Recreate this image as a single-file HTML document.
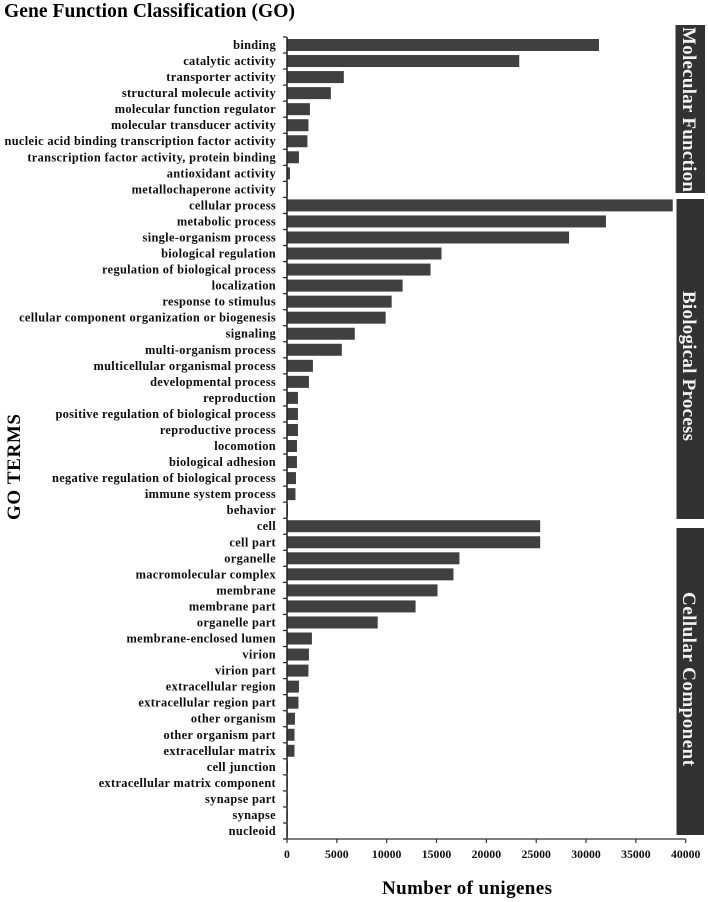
<!DOCTYPE html>
<html><head><meta charset="utf-8"><style>
html,body{margin:0;padding:0;background:#fff;width:708px;height:902px;overflow:hidden}
svg{display:block;font-family:"Liberation Serif",serif;font-weight:bold}
</style></head><body>
<svg id="chart" width="708" height="902" viewBox="0 0 708 902" xmlns="http://www.w3.org/2000/svg">
<defs><filter id="soft" x="-2%" y="-2%" width="104%" height="104%"><feGaussianBlur stdDeviation="0.35"/></filter></defs>
<g id="root" filter="url(#soft)">
<text x="4" y="17" font-size="19.5" fill="#000" textLength="291" lengthAdjust="spacing">Gene Function Classification (GO)</text>
<text transform="translate(20,520) rotate(-90)" font-size="19" fill="#000" textLength="106" lengthAdjust="spacing">GO TERMS</text>
<text x="382" y="894" font-size="19" fill="#000" textLength="170" lengthAdjust="spacing">Number of unigenes</text>
<rect x="675.5" y="25" width="29.5" height="168" fill="#333"/>
<rect x="676.5" y="199" width="27.5" height="320" fill="#333"/>
<rect x="676.5" y="528" width="27.5" height="307" fill="#333"/>
<text transform="translate(683,27) rotate(90)" font-size="19" fill="#f2f2f2" textLength="165" lengthAdjust="spacing">Molecular Function</text>
<text transform="translate(683,291) rotate(90)" font-size="19" fill="#f2f2f2" textLength="150" lengthAdjust="spacing">Biological Process</text>
<text transform="translate(683,592) rotate(90)" font-size="19" fill="#f2f2f2" textLength="174" lengthAdjust="spacing">Cellular Component</text>
<g id="plot"></g>
</g>
</svg>
<script>
const categories = ["binding","catalytic activity","transporter activity","structural molecule activity","molecular function regulator","molecular transducer activity","nucleic acid binding transcription factor activity","transcription factor activity, protein binding","antioxidant activity","metallochaperone activity","cellular process","metabolic process","single-organism process","biological regulation","regulation of biological process","localization","response to stimulus","cellular component organization or biogenesis","signaling","multi-organism process","multicellular organismal process","developmental process","reproduction","positive regulation of biological process","reproductive process","locomotion","biological adhesion","negative regulation of biological process","immune system process","behavior","cell","cell part","organelle","macromolecular complex","membrane","membrane part","organelle part","membrane-enclosed lumen","virion","virion part","extracellular region","extracellular region part","other organism","other organism part","extracellular matrix","cell junction","extracellular matrix component","synapse part","synapse","nucleoid"];
const unigenes = [31300,23300,5700,4400,2300,2150,2050,1200,300,60,38700,32000,28300,15500,14400,11600,10500,9900,6800,5500,2600,2200,1100,1100,1100,1000,1000,900,850,100,25400,25400,17300,16700,15100,12900,9100,2500,2200,2150,1200,1150,800,750,750,100,80,70,60,50];
const xTicks = [0,5000,10000,15000,20000,25000,30000,35000,40000];

const NS = "http://www.w3.org/2000/svg";
const plot = document.getElementById("plot");
const xScale = v => 287 + v * (685.7 - 287) / 40000;
const yScale = i => 45 + i * (831 - 45) / (categories.length - 1);
function make(tag, attrs, text) {
  const el = document.createElementNS(NS, tag);
  for (const k in attrs) el.setAttribute(k, attrs[k]);
  if (text !== undefined) el.textContent = text;
  plot.appendChild(el);
  return el;
}
categories.forEach((c, i) => {
  const slug = c.replace(/[^a-z]+/g, "-");
  const bar = make("rect", {x: xScale(0), y: yScale(i) - 6, width: Math.max(xScale(unigenes[i]) - xScale(0), 0.8), height: 12, fill: "#404040"});
  
  
  const label = make("text", {x: 276, y: yScale(i) + 4, "text-anchor": "end", "font-size": 12.4, "letter-spacing": 0.32, fill: "#111"}, c);
  
  
  const tick = make("line", {x1: 283, x2: 287, y1: yScale(i) - 8, y2: yScale(i) - 8, stroke: "#222", "stroke-width": 1.2});
  
  
});
const yEnd = make("line", {x1: 283, x2: 287, y1: yScale(49) + 8, y2: yScale(49) + 8, stroke: "#222", "stroke-width": 1.2});


const yAxis = make("line", {x1: 287, x2: 287, y1: 37, y2: 839, stroke: "#222", "stroke-width": 1.5});


const xAxis = make("line", {x1: 284, x2: xScale(40000), y1: 839, y2: 839, stroke: "#333", "stroke-width": 1.3});


xTicks.forEach(t => {
  const tick = make("line", {x1: xScale(t), x2: xScale(t), y1: 839, y2: 843, stroke: "#333", "stroke-width": 1.2});
  
  
  const label = make("text", {x: xScale(t), y: 858, "text-anchor": "middle", "font-size": 11.8, fill: "#111"}, t);
  
  
});
</script>
</body></html>
